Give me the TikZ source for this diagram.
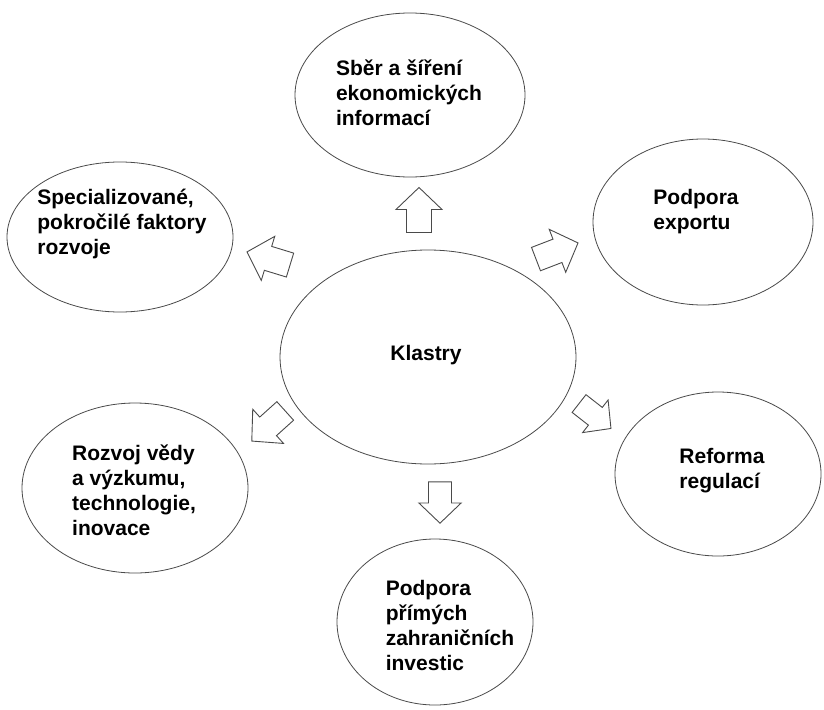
\documentclass[tikz,border=0pt]{standalone}
\usepackage{fontspec}
\setmainfont{Liberation Sans}
\usetikzlibrary{shapes.geometric}
\definecolor{linegray}{HTML}{4A4A4A}
\tikzset{
  ell/.style={draw=linegray, line width=0.8pt, ellipse, inner sep=0pt},
  lbl/.style={align=left, font=\fontsize{21}{25}\selectfont\bfseries, text=black, inner sep=0pt},
  pics/blockarrow/.style={code={
    \draw[draw=linegray, line width=0.9pt, fill=white, line join=miter]
      (-22.5,-12.5) -- (0.5,-12.5) -- (0.5,-23) -- (22.5,0) -- (0.5,23) -- (0.5,12.5) -- (-22.5,12.5) -- cycle;
  }}
}
\begin{document}
\begin{tikzpicture}[x=1pt,y=-1pt]
\useasboundingbox (0,0) rectangle (824,709);
\fill[white] (0,0) rectangle (824,709);

% ellipses
\node[ell, minimum width=296pt, minimum height=214pt] (center) at (428,357) {};
\node[ell, minimum width=230pt, minimum height=164pt] (top) at (410,95) {};
\node[ell, minimum width=226pt, minimum height=150pt] (ul) at (120,237) {};
\node[ell, minimum width=220pt, minimum height=166pt] (ur) at (703,222) {};
\node[ell, minimum width=226pt, minimum height=170pt] (ll) at (135,488) {};
\node[ell, minimum width=206pt, minimum height=164pt] (lr) at (718,474) {};
\node[ell, minimum width=196pt, minimum height=166pt] (bot) at (435,622) {};

% texts
\node[lbl] (tcenter) at (426,355) {Klastry};
\node[lbl] (ttop) at (409,93) {Sběr a šíření\\ekonomických\\informací};
\node[lbl] (tul) at (122,224) {Specializované,\\pokročilé faktory\\rozvoje};
\node[lbl] (tur) at (696,212) {Podpora\\exportu};
\node[lbl] (tll) at (134,490) {Rozvoj vědy\\a výzkumu,\\technologie,\\inovace};
\node[lbl] (tlr) at (722,471) {Reforma\\regulací};
\node[lbl] (tbot) at (450,625) {Podpora\\přímých\\zahraničních\\investic};

% block arrows
\pic[rotate=90] at (419,210) {blockarrow};
\pic[rotate=163] at (268.5,258.5) {blockarrow};
\pic[rotate=21] at (557,251) {blockarrow};
\pic[rotate=222] at (268.5,426) {blockarrow};
\pic[rotate=-38, scale=0.9] at (595,416) {blockarrow};
\pic[rotate=-90, scale=0.92] at (440,502.5) {blockarrow};
\end{tikzpicture}
\end{document}
